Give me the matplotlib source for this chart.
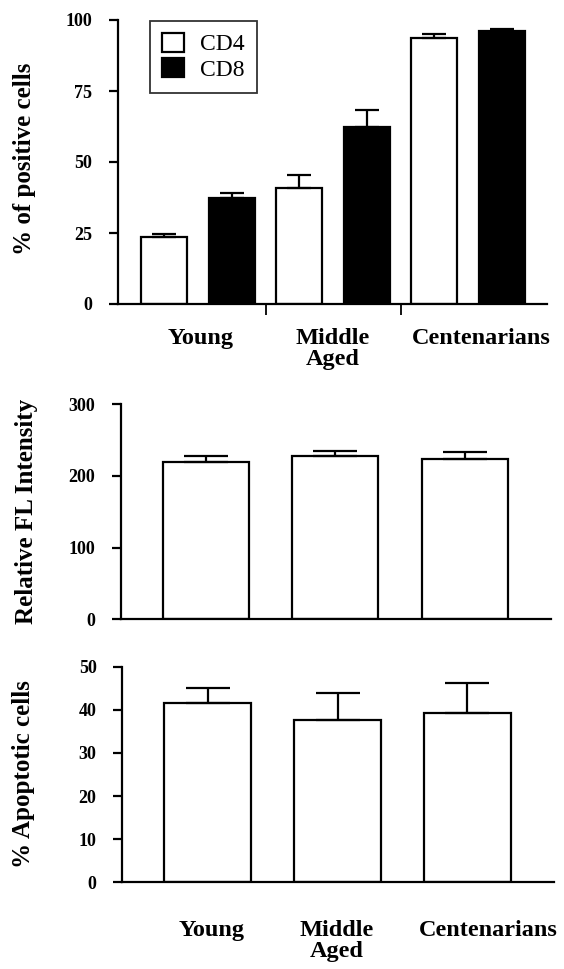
import numpy as np
import matplotlib
matplotlib.use("Agg")
import matplotlib.pyplot as plt

plt.rcParams["font.family"] = ["Liberation Serif", "DejaVu Serif"]

# ---------------- data ----------------
groups = ["Young", "Middle\nAged", "Centenarians"]

cd4_pos = [23.6, 40.7, 93.5]
cd4_err = [1.0, 4.8, 1.4]
cd8_pos = [37.4, 62.5, 96.1]
cd8_err = [1.8, 5.8, 0.6]

fl_intensity = [219.9, 227.2, 223.3]
fl_err = [8.0, 7.8, 10.6]

apoptotic = [41.5, 37.7, 39.2]
apoptotic_err = [3.6, 6.3, 7.0]

W, H = 564, 969
fig = plt.figure(figsize=(W / 100, H / 100), dpi=100)

LW = 1.6


def px_axes(left, right, top, bottom):
    return fig.add_axes([left / W, 1 - bottom / H, (right - left) / W, (bottom - top) / H])


def style(ax, ticks):
    for s in ["top", "right"]:
        ax.spines[s].set_visible(False)
    for s in ["left", "bottom"]:
        ax.spines[s].set_linewidth(LW)
    ax.set_yticks(ticks)
    ax.tick_params(axis="y", length=6.5, width=LW, labelsize=13, pad=12)
    for t in ax.get_yticklabels():
        t.set_fontweight("bold")


def ylabel(ax, text, xc, yc):
    ax.set_ylabel(text, fontsize=18, fontweight="bold")
    ax.yaxis.label.set_verticalalignment("center")
    ax.yaxis.set_label_coords(xc, yc)


x = np.arange(len(groups))
zeros = np.zeros(len(groups))

# ---------------- panel 1 ----------------
ax1 = px_axes(118, 547, 20, 304)
bw = 0.34
off = 0.25
ax1.bar(x - off, cd4_pos, bw, color="white", edgecolor="black", linewidth=LW,
        yerr=[zeros, cd4_err], error_kw=dict(capsize=8.3, elinewidth=LW, capthick=LW),
        label="CD4", zorder=2)
ax1.bar(x + off, cd8_pos, bw, color="black", edgecolor="black", linewidth=LW,
        yerr=[zeros, cd8_err], error_kw=dict(capsize=8.3, elinewidth=LW, capthick=LW),
        label="CD8", zorder=2)
ax1.set_xlim(-0.593, 2.585)
ax1.set_ylim(0, 100)
style(ax1, [0, 25, 50, 75, 100])
ax1.set_xticks([0.02, 1.0, 2.1])
ax1.set_xticklabels(groups, fontsize=17.5, fontweight="bold", linespacing=1.0)
ax1.tick_params(axis="x", length=0, pad=17)
ax1.set_xticks([0.5, 1.5], minor=True)
ax1.tick_params(axis="x", which="minor", length=8, width=1.3, direction="out")
ylabel(ax1, "% of positive cells", -0.219, 0.51)
leg = ax1.legend(loc="upper left", bbox_to_anchor=(0.0746, 0.9965), borderaxespad=0,
                 prop=dict(size=17), frameon=True, fancybox=False, edgecolor="black",
                 handlelength=0.93, handleheight=0.85, borderpad=0.5,
                 labelspacing=0.12, handletextpad=0.7)
leg.get_frame().set_linewidth(1.3)

# ---------------- panel 2 ----------------
ax2 = px_axes(120.7, 551, 404.3, 619.3)
ax2.bar(x, fl_intensity, 0.665, color="white", edgecolor="black", linewidth=LW,
        yerr=[zeros, fl_err], error_kw=dict(capsize=15.5, elinewidth=LW, capthick=LW),
        zorder=2)
ax2.set_xlim(-0.662, 2.668)
ax2.set_ylim(0, 300)
style(ax2, [0, 100, 200, 300])
ax2.set_xticks([])
ylabel(ax2, "Relative FL Intensity", -0.218, 0.5)

# ---------------- panel 3 ----------------
ax3 = px_axes(122.3, 554, 666.7, 882.3)
ax3.bar(x, apoptotic, 0.67, color="white", edgecolor="black", linewidth=LW,
        yerr=[zeros, apoptotic_err], error_kw=dict(capsize=15.5, elinewidth=LW, capthick=LW),
        zorder=2)
ax3.set_xlim(-0.66, 2.667)
ax3.set_ylim(0, 50)
style(ax3, [0, 10, 20, 30, 40, 50])
ax3.set_xticks([0.03, 0.99, 2.16])
ax3.set_xticklabels(groups, fontsize=17.5, fontweight="bold", linespacing=1.0)
ax3.tick_params(axis="x", length=0, pad=27)
ylabel(ax3, "% Apoptotic cells", -0.228, 0.5)

fig.savefig("out.png", dpi=100)
